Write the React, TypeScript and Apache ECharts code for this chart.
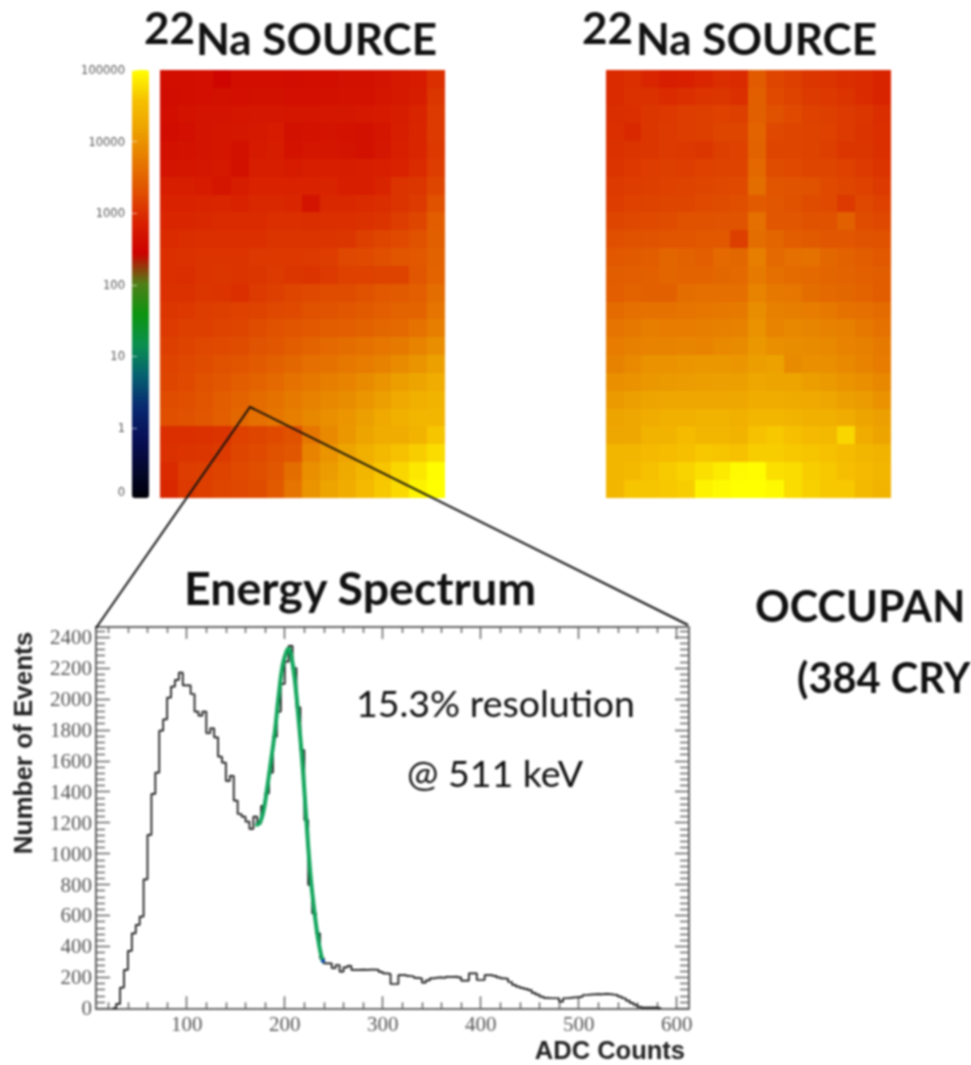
import React, { useEffect, useRef } from "react";
import * as echarts from "echarts";

// --- Energy spectrum histogram (ADC bin start, counts per 4-ADC bin)
const binStart = 24;
const binWidth = 4;
const countsPeaks = [
  0, 28, 134, 248, 371, 485, 539, 593, 834, 1121, 1386, 1524, 1795, 1868, 2009, 2080, 2123, 2170, 2088, 2088,
  2032, 1918, 1892, 1918, 1778, 1810, 1752, 1627, 1588, 1470, 1502, 1343, 1256, 1239, 1207, 1160, 1239, 1196,
  1308, 1390, 1524, 1756, 1918, 2097, 2241, 2343, 2200, 1946, 1670, 1218, 797, 614, 485, 323, 291,
];
const countsTail = [
  291, 259, 280, 237, 265, 274, 248, 248, 250, 248, 250, 250, 248, 235, 226, 222, 157, 157, 215, 215, 209, 205,
  197, 194, 166, 180, 194, 198, 200, 196, 203, 203, 205, 200, 179, 179, 226, 226, 183, 183, 215, 215, 210, 200,
  194, 190, 170, 151, 140, 132, 125, 118, 100, 88, 75, 68, 65, 65, 65, 43, 65, 68, 70, 72, 75, 86, 88, 90, 92,
  90, 93, 92, 88, 85, 75, 65, 50, 35, 22, 10, 4, 4, 4, 4, 0,
];
const counts = [...countsPeaks, ...countsTail];
const fitX = [170, 174, 178, 182, 186, 190, 194, 198, 202, 204, 206, 210, 214, 218, 222, 226, 230, 234, 238, 240];
const fitY = [1185, 1195, 1265, 1420, 1600, 1790, 2030, 2220, 2310, 2325, 2300, 2140, 1880, 1590, 1225, 880, 640, 450, 320, 295];
const fitEnd = [239, 305];

const xMajor = [100, 200, 300, 400, 500, 600];
const xMinor = [20, 40, 60, 80, 120, 140, 160, 180, 220, 240, 260, 280, 320, 340, 360, 380, 420, 440, 460, 480, 520, 540, 560, 580];
const yMajor = [0, 200, 400, 600, 800, 1000, 1200, 1400, 1600, 1800, 2000, 2200, 2400];
const yMinor = [40, 80, 120, 160, 240, 280, 320, 360, 440, 480, 520, 560, 640, 680, 720, 760, 840, 880, 920, 960, 1040, 1080, 1120, 1160, 1240, 1280, 1320, 1360, 1440, 1480, 1520, 1560, 1640, 1680, 1720, 1760, 1840, 1880, 1920, 1960, 2040, 2080, 2120, 2160, 2240, 2280, 2320, 2360, 2440];

// --- Occupancy maps: log10(counts), 16 columns x 24 rows, top row first
const leftMap = [
  [2.62, 2.62, 2.64, 2.5, 2.62, 2.62, 2.62, 2.6, 2.62, 2.62, 2.66, 2.66, 2.7, 2.76, 2.8, 3.0],
  [2.6, 2.62, 2.64, 2.66, 2.64, 2.66, 2.66, 2.64, 2.64, 2.66, 2.68, 2.68, 2.72, 2.76, 2.82, 3.05],
  [2.62, 2.68, 2.7, 2.7, 2.72, 2.74, 2.74, 2.72, 2.72, 2.74, 2.74, 2.76, 2.78, 2.82, 2.9, 3.1],
  [2.6, 2.64, 2.7, 2.72, 2.74, 2.76, 2.8, 2.66, 2.68, 2.7, 2.68, 2.66, 2.72, 2.84, 2.92, 3.1],
  [2.66, 2.68, 2.7, 2.72, 2.66, 2.78, 2.82, 2.68, 2.72, 2.72, 2.7, 2.66, 2.74, 2.86, 2.92, 3.08],
  [2.7, 2.72, 2.74, 2.76, 2.66, 2.84, 2.84, 2.8, 2.84, 2.84, 2.82, 2.84, 2.86, 2.88, 2.96, 3.12],
  [2.84, 2.84, 2.8, 2.72, 2.82, 2.88, 2.88, 2.88, 2.88, 2.9, 2.84, 2.84, 2.9, 3.04, 3.06, 3.2],
  [2.88, 2.88, 2.9, 2.92, 2.88, 2.94, 2.94, 2.92, 2.7, 2.94, 2.94, 2.96, 2.98, 3.04, 3.1, 3.3],
  [2.92, 2.92, 2.94, 2.96, 2.96, 2.96, 3.0, 3.0, 2.98, 3.0, 3.0, 3.02, 3.04, 3.12, 3.2, 3.42],
  [2.96, 2.98, 3.0, 3.0, 3.0, 3.0, 3.04, 3.04, 3.04, 3.04, 3.06, 3.14, 3.2, 3.24, 3.3, 3.45],
  [3.0, 3.02, 3.04, 3.04, 3.04, 3.08, 3.08, 3.08, 3.1, 3.12, 3.22, 3.24, 3.28, 3.34, 3.38, 3.48],
  [3.0, 2.98, 3.04, 3.06, 3.04, 3.06, 3.1, 3.06, 3.04, 3.1, 3.16, 3.16, 3.18, 3.18, 3.36, 3.5],
  [3.02, 3.02, 3.06, 3.04, 3.0, 3.1, 3.14, 3.2, 3.22, 3.26, 3.26, 3.3, 3.38, 3.4, 3.44, 3.6],
  [3.06, 3.08, 3.12, 3.14, 3.16, 3.18, 3.22, 3.24, 3.3, 3.32, 3.36, 3.4, 3.44, 3.5, 3.5, 3.68],
  [3.1, 3.14, 3.14, 3.18, 3.2, 3.26, 3.3, 3.34, 3.38, 3.42, 3.44, 3.48, 3.54, 3.56, 3.66, 3.78],
  [3.14, 3.18, 3.22, 3.24, 3.26, 3.32, 3.36, 3.42, 3.5, 3.56, 3.6, 3.64, 3.7, 3.74, 3.84, 3.95],
  [3.18, 3.22, 3.26, 3.3, 3.34, 3.4, 3.46, 3.54, 3.62, 3.66, 3.72, 3.76, 3.82, 3.92, 4.02, 4.15],
  [3.2, 3.24, 3.3, 3.36, 3.42, 3.5, 3.56, 3.66, 3.72, 3.78, 3.84, 3.92, 4.02, 4.12, 4.2, 4.3],
  [3.26, 3.28, 3.34, 3.42, 3.5, 3.58, 3.66, 3.74, 3.82, 3.88, 3.94, 4.04, 4.14, 4.26, 4.34, 4.4],
  [3.28, 3.3, 3.36, 3.44, 3.54, 3.62, 3.7, 3.78, 3.88, 3.96, 4.04, 4.14, 4.26, 4.36, 4.42, 4.44],
  [3.0, 3.0, 3.02, 3.04, 3.16, 3.2, 3.24, 3.3, 3.7, 3.9, 4.06, 4.2, 4.3, 4.3, 4.4, 4.6],
  [3.02, 3.04, 3.06, 3.1, 3.2, 3.24, 3.3, 3.36, 3.84, 4.02, 4.2, 4.34, 4.46, 4.58, 4.66, 4.76],
  [2.96, 3.12, 3.14, 3.18, 3.24, 3.28, 3.36, 3.6, 3.96, 4.1, 4.28, 4.44, 4.6, 4.72, 4.84, 4.98],
  [2.94, 3.1, 3.14, 3.2, 3.22, 3.26, 3.4, 3.68, 4.02, 4.18, 4.32, 4.48, 4.62, 4.74, 4.92, 5.0],
];
const rightMap = [
  [2.95, 3.0, 2.92, 2.84, 2.86, 2.92, 2.98, 2.96, 3.4, 3.2, 3.14, 3.06, 3.04, 2.98, 2.96, 2.9],
  [2.95, 3.02, 3.02, 2.96, 3.0, 3.04, 3.06, 3.0, 3.45, 3.24, 3.18, 3.1, 3.08, 3.04, 2.96, 2.9],
  [2.98, 3.0, 3.06, 3.08, 3.12, 3.14, 3.16, 3.14, 3.45, 3.3, 3.24, 3.16, 3.14, 3.1, 3.06, 2.98],
  [3.0, 2.94, 3.06, 3.1, 3.12, 3.14, 3.2, 3.2, 3.5, 3.22, 3.2, 3.18, 3.16, 3.1, 3.04, 3.0],
  [3.02, 3.04, 3.06, 3.1, 3.08, 3.06, 3.14, 3.16, 3.48, 3.2, 3.2, 3.18, 3.14, 3.06, 3.06, 3.0],
  [3.04, 3.08, 3.12, 3.14, 3.12, 3.16, 3.18, 3.18, 3.55, 3.26, 3.24, 3.2, 3.2, 3.16, 3.1, 3.04],
  [3.1, 3.12, 3.14, 3.16, 3.18, 3.2, 3.22, 3.24, 3.6, 3.34, 3.32, 3.3, 3.24, 3.2, 3.16, 3.1],
  [3.12, 3.16, 3.18, 3.2, 3.2, 3.24, 3.26, 3.28, 3.4, 3.36, 3.3, 3.26, 3.24, 3.1, 3.22, 3.16],
  [3.2, 3.22, 3.24, 3.26, 3.3, 3.3, 3.32, 3.32, 3.62, 3.36, 3.36, 3.3, 3.3, 3.46, 3.26, 3.22],
  [3.28, 3.3, 3.32, 3.34, 3.34, 3.38, 3.38, 3.14, 3.6, 3.52, 3.42, 3.4, 3.36, 3.36, 3.32, 3.3],
  [3.38, 3.4, 3.42, 3.52, 3.48, 3.44, 3.56, 3.54, 3.78, 3.56, 3.62, 3.64, 3.54, 3.48, 3.42, 3.38],
  [3.42, 3.44, 3.46, 3.52, 3.5, 3.5, 3.54, 3.56, 3.74, 3.62, 3.58, 3.56, 3.52, 3.5, 3.46, 3.42],
  [3.44, 3.5, 3.46, 3.46, 3.6, 3.62, 3.62, 3.62, 3.84, 3.72, 3.7, 3.6, 3.56, 3.54, 3.5, 3.42],
  [3.58, 3.62, 3.66, 3.66, 3.68, 3.7, 3.72, 3.74, 3.94, 3.8, 3.78, 3.76, 3.72, 3.66, 3.62, 3.58],
  [3.68, 3.72, 3.78, 3.76, 3.76, 3.78, 3.8, 3.82, 4.0, 3.84, 3.88, 3.86, 3.82, 3.8, 3.72, 3.66],
  [3.76, 3.8, 3.84, 3.84, 3.86, 3.84, 3.9, 3.92, 4.06, 3.96, 3.94, 3.92, 3.9, 3.84, 3.8, 3.74],
  [3.82, 3.9, 4.0, 4.0, 4.04, 4.06, 4.06, 4.04, 4.12, 4.16, 3.92, 3.98, 3.96, 3.9, 3.84, 3.76],
  [3.96, 4.0, 4.06, 4.08, 4.1, 4.12, 4.14, 4.14, 4.24, 4.2, 4.18, 4.12, 4.08, 4.02, 3.96, 3.88],
  [4.08, 4.14, 4.2, 4.22, 4.22, 4.22, 4.22, 4.24, 4.32, 4.32, 4.28, 4.26, 4.22, 4.14, 4.1, 4.0],
  [4.18, 4.24, 4.3, 4.34, 4.34, 4.38, 4.38, 4.36, 4.44, 4.44, 4.4, 4.36, 4.34, 4.3, 4.2, 4.14],
  [4.22, 4.24, 4.38, 4.4, 4.5, 4.44, 4.44, 4.38, 4.58, 4.62, 4.56, 4.48, 4.46, 4.72, 4.3, 4.18],
  [4.42, 4.44, 4.48, 4.52, 4.56, 4.62, 4.6, 4.58, 4.66, 4.66, 4.62, 4.6, 4.58, 4.5, 4.44, 4.38],
  [4.44, 4.46, 4.58, 4.64, 4.7, 4.78, 4.86, 4.96, 4.98, 4.78, 4.76, 4.66, 4.62, 4.54, 4.48, 4.42],
  [4.42, 4.6, 4.6, 4.62, 4.66, 4.92, 4.96, 5.0, 5.0, 4.96, 4.76, 4.68, 4.62, 4.62, 4.46, 4.4],
];
const cols = Array.from({ length: 16 }, (_, i) => i);
const rows = Array.from({ length: 24 }, (_, i) => i);

// --- Colour scale
const scaleTicks = [-0.9, 0, 1, 2, 3, 4, 5];
const scaleLabels = ["0", "1", "10", "100", "1000", "10000", "100000"];
const scaleMin = -0.977;
const scaleMax = 5;
const scaleColors = [
  "#000008", "#040830", "#081058", "#082a70", "#066070", "#0a9050", "#0c9410", "#508018",
  "#cc0000", "#d82000", "#e05000", "#e67800", "#eca000", "#f6c000", "#ffff00",
];

const FRAME = "#666666";
const TICK = "#5c5c5c";
const LABEL = "#555555";
const serif = "Liberation Serif";

const hist = [
  ...counts.map((c, i) => [binStart + i * binWidth, c]),
  [binStart + counts.length * binWidth, 0],
];
const cells = (m: number[][]) => m.flatMap((r, y) => r.map((v, x) => [x, y, v]));

function frameAxis(kind: "x" | "y", position: string, values: number[], len: number, min: number, max: number, labels: boolean) {
  return {
    type: "value",
    gridIndex: 0,
    position,
    min,
    max,
    scale: true,
    splitLine: { show: false },
    axisLine: { show: true, onZero: false, lineStyle: { color: FRAME, width: 2 } },
    axisTick: { show: true, inside: true, length: len, customValues: values, lineStyle: { color: TICK, width: 1.4 } },
    axisLabel: labels
      ? {
          show: true,
          customValues: values,
          color: LABEL,
          fontFamily: serif,
          fontSize: 21,
          margin: kind === "x" ? 5 : 4,
          padding: kind === "y" ? [5, 0, 0, 0] : 0,
          formatter: (v: number) => String(v),
        }
      : { show: false },
  };
}

const heatX = (g: number) => ({ type: "category", gridIndex: g, data: cols, show: false });
const heatY = (g: number) => ({ type: "category", gridIndex: g, data: rows, inverse: true, show: false });

const txt = (text: string, x: number, y: number, fontSize: number, weight: number | string = 700) => ({
  type: "text",
  x,
  y,
  z: 20,
  style: {
    text,
    fontFamily: "Lato, sans-serif",
    fontSize,
    fontWeight: weight,
    fill: "#111",
    textAlign: "left",
    textVerticalAlign: "middle",
  },
});

export default function App() {
  const ref = useRef<HTMLDivElement>(null);
  useEffect(() => {
    const chart = echarts.init(ref.current!, undefined, { renderer: "svg" });
    const xMin = 7.45;
    const xMax = 612.5;
    const yMin = 0;
    const yMax = 2465;
    chart.setOption({
      animation: false,
      backgroundColor: "#ffffff",
      tooltip: { show: false },
      grid: [
        { left: 96, top: 627, width: 593, height: 381.3 },
        { left: 160, top: 70, width: 285, height: 428 },
        { left: 606, top: 70, width: 285, height: 428 },
        { left: 132, top: 70, width: 17, height: 428 },
      ],
      visualMap: {
        type: "continuous",
        seriesIndex: [0, 1],
        min: scaleMin,
        max: scaleMax,
        left: 132,
        top: 70,
        padding: 0,
        itemWidth: 17,
        itemHeight: 428,
        calculable: false,
        hoverLink: false,
        text: null,
        inRange: { color: scaleColors },
      },
      xAxis: [
        frameAxis("x", "bottom", xMajor, 12, xMin, xMax, true),
        frameAxis("x", "top", xMajor, 12, xMin, xMax, false),
        frameAxis("x", "bottom", xMinor, 6, xMin, xMax, false),
        frameAxis("x", "top", xMinor, 6, xMin, xMax, false),
        heatX(1),
        heatX(2),
        { type: "value", gridIndex: 3, min: 0, max: 1, show: false },
      ],
      yAxis: [
        frameAxis("y", "left", yMajor, 14, yMin, yMax, true),
        frameAxis("y", "right", yMajor, 14, yMin, yMax, false),
        frameAxis("y", "left", yMinor, 9, yMin, yMax, false),
        frameAxis("y", "right", yMinor, 9, yMin, yMax, false),
        heatY(1),
        heatY(2),
        {
          type: "value",
          gridIndex: 3,
          position: "left",
          min: scaleMin,
          max: scaleMax,
          z: 10,
          splitLine: { show: false },
          axisLine: { show: false },
          axisTick: {
            show: true,
            inside: true,
            length: 5,
            customValues: scaleTicks.slice(1),
            lineStyle: { color: "rgba(255,255,255,0.6)", width: 1 },
          },
          axisLabel: {
            show: true,
            customValues: scaleTicks,
            margin: 7,
            color: LABEL,
            fontFamily: "DejaVu Sans",
            fontSize: 11.5,
            formatter: (v: number) => scaleLabels[scaleTicks.indexOf(v)] ?? "",
          },
        },
      ],
      series: [
        { type: "heatmap", xAxisIndex: 4, yAxisIndex: 4, data: cells(leftMap), silent: true, itemStyle: { borderWidth: 0 }, progressive: 0 },
        { type: "heatmap", xAxisIndex: 5, yAxisIndex: 5, data: cells(rightMap), silent: true, itemStyle: { borderWidth: 0 }, progressive: 0 },
        {
          type: "line",
          xAxisIndex: 0,
          yAxisIndex: 0,
          step: "end",
          data: hist,
          showSymbol: false,
          silent: true,
          z: 3,
          lineStyle: { color: "#111111", width: 1.7 },
        },
        {
          type: "line",
          xAxisIndex: 0,
          yAxisIndex: 0,
          smooth: 0.4,
          data: fitX.map((x, i) => [x, fitY[i]]),
          showSymbol: false,
          silent: true,
          z: 4,
          lineStyle: { color: "#12a65c", width: 4 },
        },
        {
          type: "scatter",
          xAxisIndex: 0,
          yAxisIndex: 0,
          data: [fitEnd],
          symbolSize: 4,
          silent: true,
          z: 5,
          itemStyle: { color: "#1c2fd0" },
        },
      ],
      graphic: [
        {
          type: "polyline",
          z: 15,
          shape: { points: [[96, 628], [250, 407], [688, 625]] },
          style: { stroke: "#111", lineWidth: 2, fill: "none" },
        },
        txt("22", 144, 27, 44),
        txt("Na SOURCE", 196, 38, 44),
        txt("22", 582, 27, 44),
        txt("Na SOURCE", 636, 38, 44),
        txt("Energy Spectrum", 184, 587, 46.5),
        txt("OCCUPAN", 755, 605, 43),
        txt("(384 CRY", 797, 677, 41.5),
        txt("15.3% resolution", 356, 702, 37.5, 400),
        txt("@ 511 keV", 407, 772, 37.5, 400),
        {
          type: "text",
          x: 23,
          y: 743,
          rotation: Math.PI / 2,
          z: 20,
          style: {
            text: "Number of Events",
            fontFamily: "Liberation Sans",
            fontWeight: 700,
            fontSize: 26,
            fill: "#222",
            textAlign: "center",
            textVerticalAlign: "middle",
          },
        },
        {
          type: "text",
          x: 685,
          y: 1050,
          z: 20,
          style: {
            text: "ADC Counts",
            fontFamily: "Liberation Sans",
            fontWeight: 700,
            fontSize: 25.5,
            fill: "#222",
            textAlign: "right",
            textVerticalAlign: "middle",
          },
        },
      ],
    });
    return () => chart.dispose();
  }, []);
  return (
    <>
      <style>{`.occ svg path[fill]:not([fill="none"]) { shape-rendering: crispEdges; }`}</style>
      <div
        ref={ref}
        className="occ"
        style={{ position: "absolute", left: 0, top: 0, width: 971, height: 1065, filter: "blur(0.8px)" }}
      />
    </>
  );
}
